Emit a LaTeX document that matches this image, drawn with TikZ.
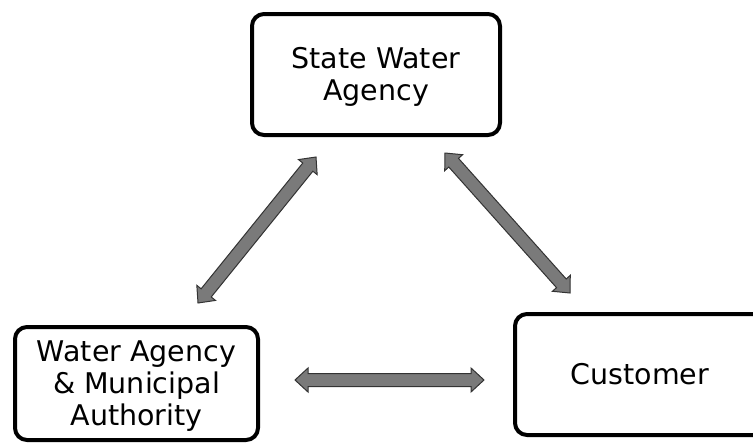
\documentclass[tikz,border=0pt]{standalone}
\usepackage{fontspec}
\setmainfont{DejaVu Sans}
\usepackage{tikz}
\usetikzlibrary{calc}

\newcommand{\headlen}{13pt}
\newcommand{\headw}{12pt}
\newcommand{\shaftw}{6.5pt}
% fat double-headed arrow between two named points
\newcommand{\fatarrow}[2]{%
  \draw[fatarrow] (#1)
    -- ($(#1)!\headlen!(#2)!\headw!90:(#2)$)
    -- ($(#1)!\headlen!(#2)!\shaftw!90:(#2)$)
    -- ($(#2)!\headlen!(#1)!\shaftw!-90:(#1)$)
    -- ($(#2)!\headlen!(#1)!\headw!-90:(#1)$)
    -- (#2)
    -- ($(#2)!\headlen!(#1)!\headw!90:(#1)$)
    -- ($(#2)!\headlen!(#1)!\shaftw!90:(#1)$)
    -- ($(#1)!\headlen!(#2)!\shaftw!-90:(#2)$)
    -- ($(#1)!\headlen!(#2)!\headw!-90:(#2)$)
    -- cycle;}
% box text, set a little lower than centre
\newcommand{\lowtext}[1]{\raisebox{-4pt}[\height][\depth]{\begin{tabular}{@{}c@{}}#1\end{tabular}}}

\begin{document}
\begin{tikzpicture}[x=1pt, y=-1pt,
    party/.style={draw, line width=4pt, rounded corners=12pt, fill=white,
      inner sep=0pt, font=\fontsize{28.5}{32}\selectfont},
    fatarrow/.style={draw=black!80, fill=black!52, line width=1pt, line join=miter},
]
\useasboundingbox (0,0) rectangle (753,445);
\clip (0,0) rectangle (753,445);

% Parties
\node[party, minimum width=248pt, minimum height=121pt] (state) at (376,74.5) {\lowtext{State Water\\Agency}};
\node[party, minimum width=243pt, minimum height=113pt] (municipal) at (136.5,383.5) {\lowtext{Water Agency\\\& Municipal\\Authority}};
\node[party, minimum width=250pt, minimum height=121pt] (customer) at (640,374.5) {\lowtext{Customer}};

% Arrow end points
\coordinate (sm) at (316,157);
\coordinate (ms) at (198,303);
\coordinate (sc) at (445,153);
\coordinate (cs) at (570,293);
\coordinate (mc) at (295,380);
\coordinate (cm) at (484,380);

% Links
\fatarrow{ms}{sm}
\fatarrow{sc}{cs}
\fatarrow{mc}{cm}
\end{tikzpicture}
\end{document}
